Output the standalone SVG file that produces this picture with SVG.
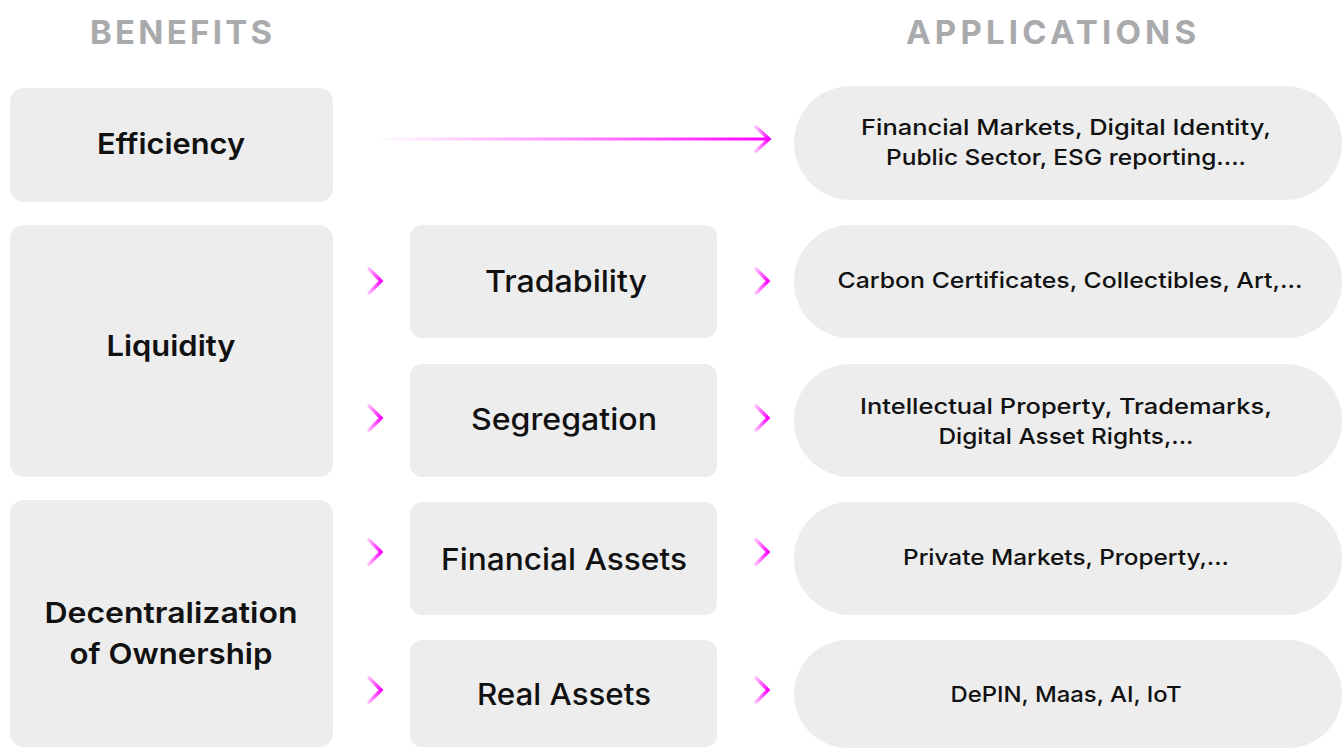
<svg xmlns="http://www.w3.org/2000/svg" width="1342" height="749" viewBox="0 0 1342 749">
<defs>
<style>
.box{fill:#ededed}
.h{font-family:Inter,"Liberation Sans",sans-serif;font-weight:700;font-size:33px;fill:#a9aaac;text-anchor:middle}
.b{font-family:Inter,"Liberation Sans",sans-serif;font-weight:600;font-size:29px;fill:#111;text-anchor:middle}
.m{font-family:Inter,"Liberation Sans",sans-serif;font-weight:500;font-size:30px;fill:#111;text-anchor:middle}
.a{font-family:Inter,"Liberation Sans",sans-serif;font-weight:500;font-size:22px;fill:#111;text-anchor:middle}
.chev{fill:none;stroke:url(#cg);stroke-width:3.5;stroke-linecap:round;stroke-linejoin:miter}
</style>
<linearGradient id="lg" x1="375" y1="0" x2="770" y2="0" gradientUnits="userSpaceOnUse">
<stop offset="0" stop-color="#ff00ff" stop-opacity="0"/>
<stop offset="0.5" stop-color="#ff00ff" stop-opacity="0.45"/>
<stop offset="1" stop-color="#ff00ff" stop-opacity="1"/>
</linearGradient>
<linearGradient id="cg" x1="0" y1="0" x2="1" y2="0">
<stop offset="0" stop-color="#ff00ff" stop-opacity="0.25"/>
<stop offset="1" stop-color="#ff00ff" stop-opacity="1"/>
</linearGradient>
</defs>
<rect width="1342" height="749" fill="#ffffff"/>
<text class="h" x="181" y="44" textLength="182" lengthAdjust="spacing">BENEFITS</text>
<text class="h" x="1051" y="44" textLength="290" lengthAdjust="spacing">APPLICATIONS</text>

<g id="efficiency"><rect class="box" x="10" y="88" width="323" height="114" rx="14"/><text class="b" x="171" y="154" textLength="148" lengthAdjust="spacingAndGlyphs">Efficiency</text></g>
<g id="liquidity"><rect class="box" x="10" y="225" width="323" height="252" rx="14"/><text class="b" x="171" y="356" textLength="129" lengthAdjust="spacingAndGlyphs">Liquidity</text></g>
<g id="decentralization"><rect class="box" x="10" y="500" width="323" height="247" rx="14"/><text class="b" x="171" y="623" textLength="253" lengthAdjust="spacingAndGlyphs">Decentralization</text><text class="b" x="171" y="664" textLength="203" lengthAdjust="spacingAndGlyphs">of Ownership</text></g>

<g id="tradability"><rect class="box" x="410" y="225" width="307" height="113" rx="12"/><text class="m" x="566" y="292" textLength="162" lengthAdjust="spacingAndGlyphs">Tradability</text></g>
<g id="segregation"><rect class="box" x="410" y="364" width="307" height="113" rx="12"/><text class="m" x="564" y="430" textLength="186" lengthAdjust="spacingAndGlyphs">Segregation</text></g>
<g id="financial-assets"><rect class="box" x="410" y="502" width="307" height="113" rx="12"/><text class="m" x="564" y="570" textLength="246" lengthAdjust="spacingAndGlyphs">Financial Assets</text></g>
<g id="real-assets"><rect class="box" x="410" y="640" width="307" height="107" rx="12"/><text class="m" x="564" y="705" textLength="174" lengthAdjust="spacingAndGlyphs">Real Assets</text></g>

<g id="app-efficiency"><rect class="box" x="794" y="86" width="548" height="114" rx="57"/><text class="a" x="1066" y="135" textLength="410" lengthAdjust="spacingAndGlyphs">Financial Markets, Digital Identity,</text><text class="a" x="1066" y="165" textLength="360" lengthAdjust="spacingAndGlyphs">Public Sector, ESG reporting....</text></g>
<g id="app-tradability"><rect class="box" x="794" y="225" width="548" height="113" rx="56"/><text class="a" x="1070" y="288" textLength="465" lengthAdjust="spacingAndGlyphs">Carbon Certificates, Collectibles, Art,...</text></g>
<g id="app-segregation"><rect class="box" x="794" y="364" width="548" height="113" rx="56"/><text class="a" x="1066" y="414" textLength="412" lengthAdjust="spacingAndGlyphs">Intellectual Property, Trademarks,</text><text class="a" x="1066" y="444" textLength="255" lengthAdjust="spacingAndGlyphs">Digital Asset Rights,...</text></g>
<g id="app-financial"><rect class="box" x="794" y="502" width="548" height="113" rx="56"/><text class="a" x="1066" y="565" textLength="326" lengthAdjust="spacingAndGlyphs">Private Markets, Property,...</text></g>
<g id="app-real"><rect class="box" x="794" y="640" width="548" height="108" rx="54"/><text class="a" x="1066" y="702" textLength="231" lengthAdjust="spacingAndGlyphs">DePIN, Maas, AI, IoT</text></g>

<g id="connectors">
<line x1="375" y1="139" x2="768" y2="139" stroke="url(#lg)" stroke-width="3"/>
<polyline class="chev" points="756,127 769,139 756,151"/>
<polyline class="chev" points="369,269 381,281 369,293"/>
<polyline class="chev" points="369,406 381,418 369,430"/>
<polyline class="chev" points="369,540 381,552 369,564"/>
<polyline class="chev" points="369,678 381,690 369,702"/>
<polyline class="chev" points="756,269 768,281 756,293"/>
<polyline class="chev" points="756,406 768,418 756,430"/>
<polyline class="chev" points="756,540 768,552 756,564"/>
<polyline class="chev" points="756,678 768,690 756,702"/>
</g>
</svg>
